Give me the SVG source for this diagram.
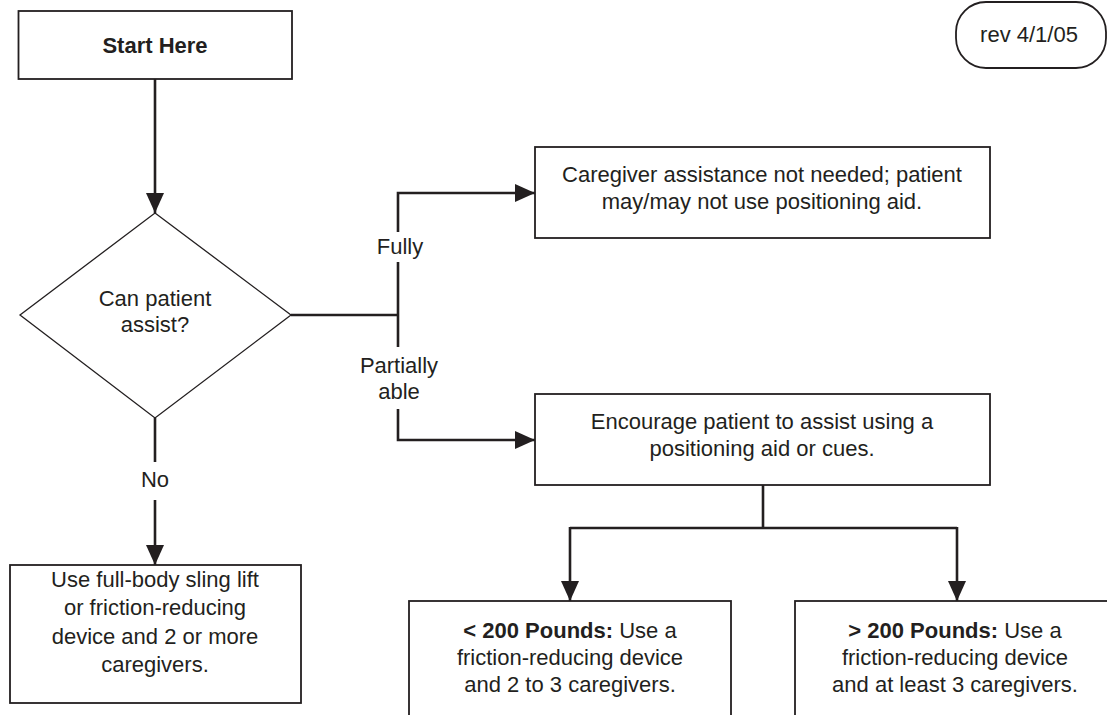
<svg xmlns="http://www.w3.org/2000/svg" width="1107" height="715" viewBox="0 0 1107 715">
  <style>
    .box { fill: #fff; stroke: #231f20; stroke-width: 1.8; }
    .dia { fill: #fff; stroke: #231f20; stroke-width: 1.3; }
    .wire { fill: none; stroke: #231f20; stroke-width: 2.6; }
    text { font-family: "Liberation Sans", Arial, Helvetica, sans-serif; font-size: 22px; fill: #231f20; text-anchor: middle; }
    .b { font-weight: bold; }
  </style>
  <defs>
    <marker id="arrow" markerUnits="userSpaceOnUse" markerWidth="20" markerHeight="18" refX="20" refY="9" orient="auto">
      <path d="M0,0 L20,9 L0,18 Z" fill="#231f20"/>
    </marker>
  </defs>

  <rect width="1107" height="715" fill="#fff"/>

  <!-- connectors and their branch labels -->
  <g id="connectors">
    <line class="wire" x1="155" y1="79" x2="155" y2="213" marker-end="url(#arrow)"/>
    <!-- decision to right-hand branches -->
    <line class="wire" x1="291" y1="315" x2="398" y2="315"/>
    <polyline class="wire" points="398,232 398,193 535,193" marker-end="url(#arrow)"/>
    <line class="wire" x1="398" y1="262" x2="398" y2="347"/>
    <polyline class="wire" points="398,409 398,440 535,440" marker-end="url(#arrow)"/>
    <!-- decision to "No" branch -->
    <line class="wire" x1="155" y1="418" x2="155" y2="462"/>
    <line class="wire" x1="155" y1="500" x2="155" y2="565" marker-end="url(#arrow)"/>
    <!-- weight split -->
    <line class="wire" x1="763" y1="485" x2="763" y2="528"/>
    <line class="wire" x1="570" y1="528" x2="957" y2="528"/>
    <line class="wire" x1="570" y1="527" x2="570" y2="601" marker-end="url(#arrow)"/>
    <line class="wire" x1="957" y1="527" x2="957" y2="601" marker-end="url(#arrow)"/>
    <text x="400" y="254">Fully</text>
    <text x="399" y="373">Partially</text>
    <text x="399" y="399">able</text>
    <text x="155" y="487">No</text>
  </g>

  <g id="start">
    <rect class="box" x="18.5" y="11" width="273.5" height="68"/>
    <text class="b" x="155" y="53">Start Here</text>
  </g>

  <g id="revision">
    <rect class="box" x="956" y="2" width="150" height="66" rx="30" ry="30"/>
    <text x="1029" y="42">rev 4/1/05</text>
  </g>

  <g id="decision">
    <polygon class="dia" points="155,213 291,315 155,418 20,315"/>
    <text x="155" y="306">Can patient</text>
    <text x="155" y="332">assist?</text>
  </g>

  <g id="no-assist">
    <rect class="box" x="535" y="147" width="455" height="91"/>
    <text x="762" y="182">Caregiver assistance not needed; patient</text>
    <text x="762" y="209">may/may not use positioning aid.</text>
  </g>

  <g id="encourage">
    <rect class="box" x="535" y="394" width="455" height="91"/>
    <text x="762" y="429">Encourage patient to assist using a</text>
    <text x="762" y="456">positioning aid or cues.</text>
  </g>

  <g id="full-lift">
    <rect class="box" x="10" y="565" width="291" height="138"/>
    <text x="155" y="587">Use full-body sling lift</text>
    <text x="155" y="615">or friction-reducing</text>
    <text x="155" y="644">device and 2 or more</text>
    <text x="155" y="672">caregivers.</text>
  </g>

  <g id="under-200">
    <rect class="box" x="409" y="601" width="322" height="130"/>
    <text x="570" y="638"><tspan class="b">&lt; 200 Pounds:</tspan> Use a</text>
    <text x="570" y="665">friction-reducing device</text>
    <text x="570" y="692">and 2 to 3 caregivers.</text>
  </g>

  <g id="over-200">
    <rect class="box" x="795" y="601" width="330" height="130"/>
    <text x="955" y="638"><tspan class="b">&gt; 200 Pounds:</tspan> Use a</text>
    <text x="955" y="665">friction-reducing device</text>
    <text x="955" y="692">and at least 3 caregivers.</text>
  </g>
</svg>
